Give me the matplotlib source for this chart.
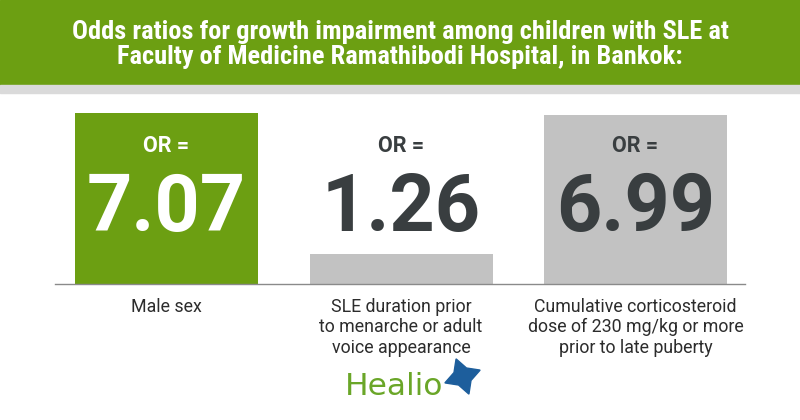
import matplotlib
matplotlib.use("Agg")
import matplotlib.pyplot as plt
from matplotlib import font_manager
from matplotlib.transforms import blended_transform_factory

names = {f.name for f in font_manager.fontManager.ttflist}
cond = "Roboto Condensed" if "Roboto Condensed" in names else "Roboto"

title = ("Odds ratios for growth impairment among children with SLE at\n"
         "Faculty of Medicine Ramathibodi Hospital, in Bankok:")
labels = ["Male sex",
          "SLE duration prior\nto menarche or adult\nvoice appearance",
          "Cumulative corticosteroid\ndose of 230 mg/kg or more\nprior to late puberty"]
odds = [7.07, 1.26, 6.99]
bar_colors = ["#6c9f12", "#c2c2c2", "#c2c2c2"]
text_colors = ["white", "#393e40", "#393e40"]

W, H = 800, 420
fig = plt.figure(figsize=(8, 4.2), dpi=100)
fig.patch.set_facecolor("white")


def fy(px):
    # pixels from top -> figure fraction
    return 1 - px / H


# header band
fig.patches.append(plt.Rectangle((0, fy(85)), 1, 85 / H, transform=fig.transFigure,
                                 color="#6c9f12", zorder=0))
fig.patches.append(plt.Rectangle((0, fy(93)), 1, 8 / H, transform=fig.transFigure,
                                 color="#dadada", zorder=0))
for k, line in enumerate(title.split("\n")):
    fig.text(0.5, fy(39 + 25 * k), line, ha="center", va="baseline", color="white",
             fontsize=19, fontweight="bold", family=cond)

base = 284  # px from top
ax = fig.add_axes([0, fy(base), 1, base / H])
ax.set_xlim(-166.5 / 234.5, (W - 166.5) / 234.5)
ax.set_ylim(0, base / 24.2)
ax.axis("off")
ax.patch.set_alpha(0)

x = range(len(odds))
ax.bar(x, odds, width=183 / 234.5, color=bar_colors)

tr = blended_transform_factory(ax.transData, fig.transFigure)
for i, v in enumerate(odds):
    ax.text(i, fy(152), "OR =", transform=tr, ha="center", va="baseline",
            color=text_colors[i], fontsize=15.5, fontweight="bold", family="Roboto")
    ax.text(i, fy(231), f"{v:.2f}", transform=tr, ha="center", va="baseline",
            color=text_colors[i], fontsize=57, fontweight="bold", family="Roboto")
    for k, line in enumerate(labels[i].split("\n")):
        ax.text(i, fy(312 + 20.5 * k), line, transform=tr, ha="center", va="baseline",
                color="#2c2c2c", fontsize=12.8, family="Roboto")

fig.add_artist(plt.Line2D([55 / W, 745 / W], [fy(base)] * 2,
                          color="#8a8a8a", lw=1))

# logo
fig.text(345 / W, fy(395), "Healio", ha="left", va="baseline", color="#6aa628",
         fontsize=22.5, family="DejaVu Sans")
fig.add_artist(plt.Line2D([462 / W], [fy(376)], marker=(4, 1, 20), markersize=27,
                          color="#1d5e9c", lw=0))

fig.savefig("out.png", dpi=100)
